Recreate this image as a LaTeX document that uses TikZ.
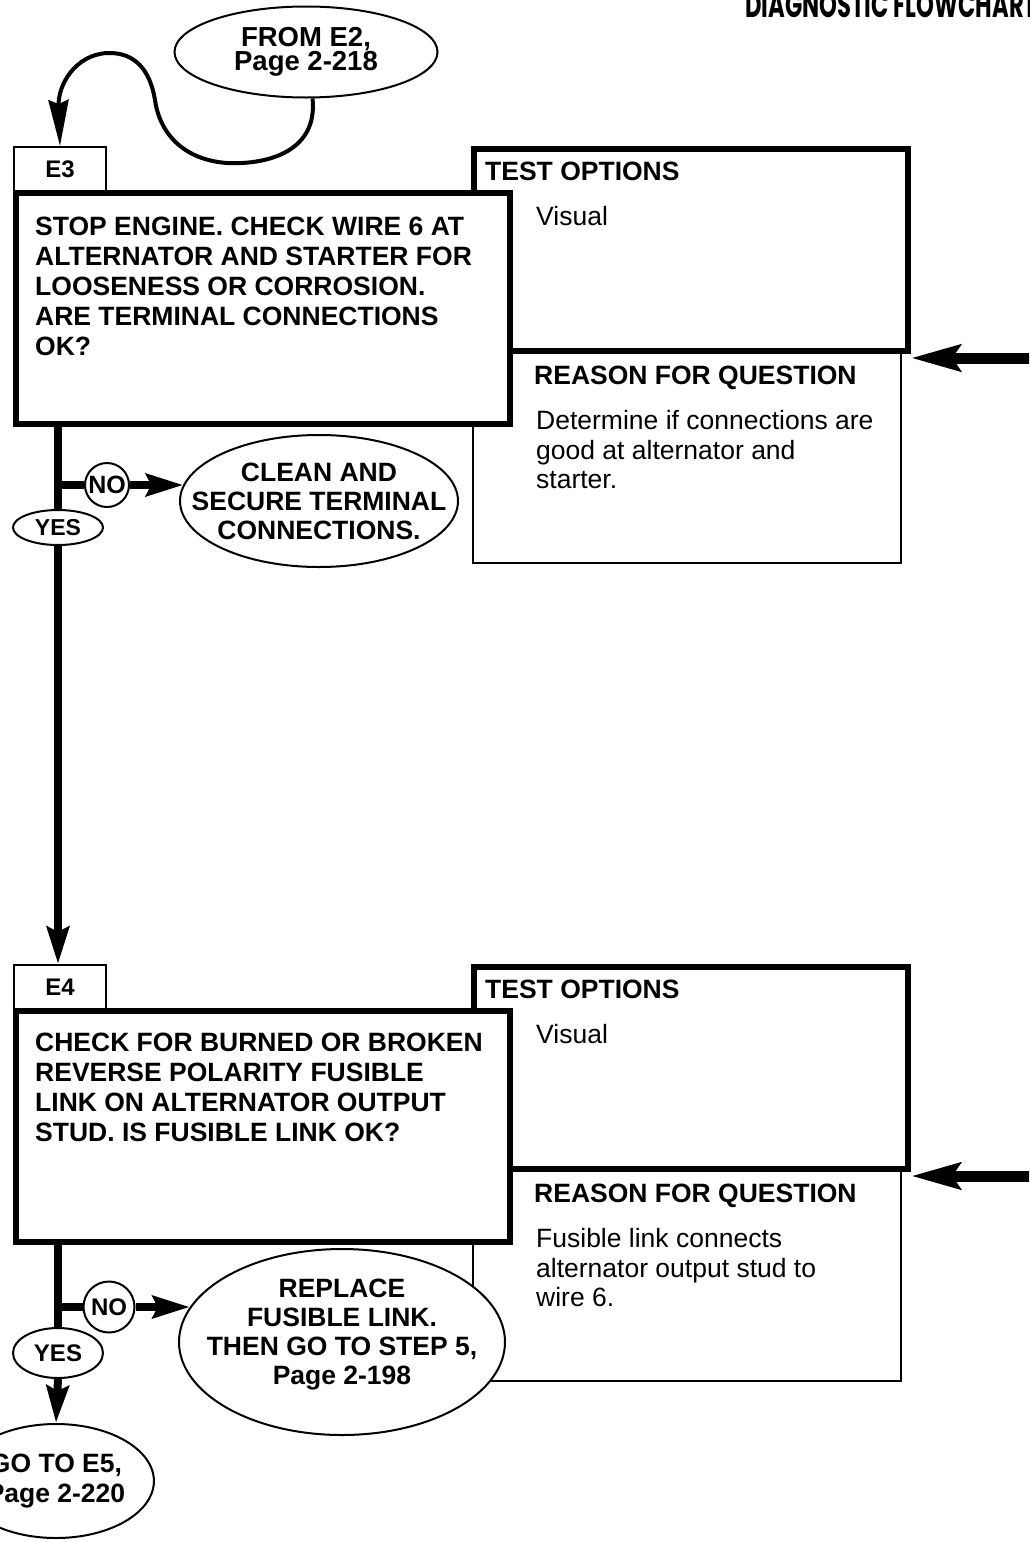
\documentclass[tikz,border=0pt]{standalone}
\usepackage{fontspec}
\setmainfont{Liberation Sans}
\newfontfamily\headfont{Poppins}
\usetikzlibrary{arrows.meta,shapes.geometric}

\begin{document}
\begin{tikzpicture}[x=1pt,y=-1pt,
  every node/.style={font=\fontsize{26.5}{30}\selectfont},
  headtext/.style={inner sep=0pt, font=\headfont\fontsize{30}{30}\selectfont\bfseries},
  tabbox/.style={draw, fill=white, line width=2pt, minimum width=92pt, minimum height=44pt, inner sep=0pt, font=\fontsize{24}{28}\selectfont\bfseries},
  qbox/.style={draw, fill=white, line width=6pt, minimum width=494pt, minimum height=231pt, inner sep=0pt},
  optbox/.style={draw, fill=white, line width=6pt, minimum width=434pt, minimum height=202pt, inner sep=0pt},
  whybox/.style={draw, fill=white, line width=2pt, minimum width=428pt, minimum height=211pt, inner sep=0pt},
  blocktext/.style={anchor=north west, inner sep=0pt, align=left, font=\fontsize{26.5}{30}\selectfont\bfseries},
  plaintext/.style={anchor=north west, inner sep=0pt, align=left, font=\fontsize{26.5}{29.5}\selectfont},
  bubble/.style={ellipse, draw, fill=white, line width=2pt, inner sep=0pt, align=center, font=\fontsize{26.5}{30}\selectfont\bfseries},
  bubbletext/.style={inner sep=0pt, align=center, font=\fontsize{26.5}{29}\selectfont\bfseries},
  nomark/.style={circle, draw, fill=white, line width=2pt, inner sep=0pt, font=\fontsize{25}{25}\selectfont\bfseries},
  yesmark/.style={ellipse, draw, fill=white, line width=2pt, inner sep=0pt, minimum width=90pt},
  trunk/.style={line width=8pt},
  flow/.style={line width=8pt, -{Stealth[length=37pt,width=22pt,inset=5pt]}},
  feed/.style={line width=11pt, -{Stealth[length=49pt,width=26pt,inset=8pt]}},
  loop/.style={line width=4pt, -{Stealth[length=46pt,width=20pt,inset=4pt]}}]
\useasboundingbox (0,0) rectangle (1029,1542);
\clip (0,0) rectangle (1029,1542);

% header, cut by the page top
\node[headtext, anchor=base west] (head) at (745,17) {\resizebox{292pt}{25pt}{DIAGNOSTIC FLOWCHART}};

% entry
\node[bubble, minimum width=263pt, minimum height=91pt, font=\fontsize{27.5}{21}\selectfont\bfseries] (from) at (306,52) {FROM E2,\\Page 2-218};

% step E3
\node[whybox] (r3) at (687,457.5) {};
\node[optbox] (t3) at (691,250) {};
\node[tabbox] (tab3) at (60,169) {E3};
\node[qbox] (q3) at (263,308.5) {};
\node[blocktext] (q3txt) at (35,217) {STOP ENGINE. CHECK WIRE 6 AT\\ALTERNATOR AND STARTER FOR\\LOOSENESS OR CORROSION.\\ARE TERMINAL CONNECTIONS\\OK?};
\node[blocktext] (t3hd) at (485,161.5) {TEST OPTIONS};
\node[plaintext] (t3txt) at (536,206.5) {Visual};
\node[blocktext] (r3hd) at (534,365.5) {REASON FOR QUESTION};
\node[plaintext] (r3txt) at (536,410.5) {Determine if connections are\\good at alternator and\\starter.};
\coordinate (in3) at (1040,358);

\node[nomark, minimum size=44pt] (no3) at (107,485) {NO};
\node[yesmark, minimum height=35pt, font=\fontsize{23}{23}\selectfont\bfseries] (yes3) at (58,527.5) {YES};
\node[bubble, minimum width=278pt, minimum height=132pt,
  label={[bubbletext]center:{CLEAN AND\\SECURE TERMINAL\\CONNECTIONS.}}] (fix3) at (319,501) {};

% step E4
\node[whybox] (r4) at (687,1275.5) {};
\node[optbox] (t4) at (691,1068) {};
\node[tabbox] (tab4) at (60,987) {E4};
\node[qbox] (q4) at (263,1126.5) {};
\node[blocktext] (q4txt) at (35,1033) {CHECK FOR BURNED OR BROKEN\\REVERSE POLARITY FUSIBLE\\LINK ON ALTERNATOR OUTPUT\\STUD. IS FUSIBLE LINK OK?};
\node[blocktext] (t4hd) at (485,979.5) {TEST OPTIONS};
\node[plaintext] (t4txt) at (536,1024.5) {Visual};
\node[blocktext] (r4hd) at (534,1183.5) {REASON FOR QUESTION};
\node[plaintext] (r4txt) at (536,1228.5) {Fusible link connects\\alternator output stud to\\wire 6.};
\coordinate (in4) at (1040,1176);

\node[nomark, minimum size=51pt, font=\fontsize{24}{24}\selectfont\bfseries] (no4) at (109,1307) {NO};
\node[yesmark, minimum height=50pt, font=\fontsize{24}{24}\selectfont\bfseries] (yes4) at (58,1353) {YES};
\node[bubble, minimum width=326pt, minimum height=186pt,
  label={[bubbletext, yshift=7pt]center:{REPLACE\\FUSIBLE LINK.\\THEN GO TO STEP 5,\\Page 2-198}}] (fix4) at (342,1342) {};
\node[bubble, minimum width=194pt, minimum height=114pt] (go5) at (56,1481) {GO TO E5,\\Page 2-220};

% connectors
\draw[loop] (from.-82) .. controls (318,150) and (270,165) .. (227,163)
  .. controls (185,160) and (160,135) .. (155,100)
  .. controls (150,70) and (135,52) .. (107,53)
  .. controls (75,55) and (58,85) .. (tab3.north);
\draw[feed] (in3) -- (in3 -| t3.east);
\draw[trunk] (q3.south -| yes3) -- (yes3.north);
\draw[trunk] (yes3.north |- no3) -- (no3.west);
\draw[flow] (no3.east) -- (no3.east -| fix3.173);
\draw[flow] (yes3.south) -- (yes3.south |- tab4.north);
\draw[feed] (in4) -- (in4 -| t4.east);
\draw[trunk] (q4.south -| yes4) -- (yes4.north);
\draw[trunk] (yes4.north |- no4) -- (no4.west);
\draw[flow] (no4.east) -- (no4.east -| fix4.167);
\draw[flow] (yes4.south) -- (go5.north);
\end{tikzpicture}
\end{document}
